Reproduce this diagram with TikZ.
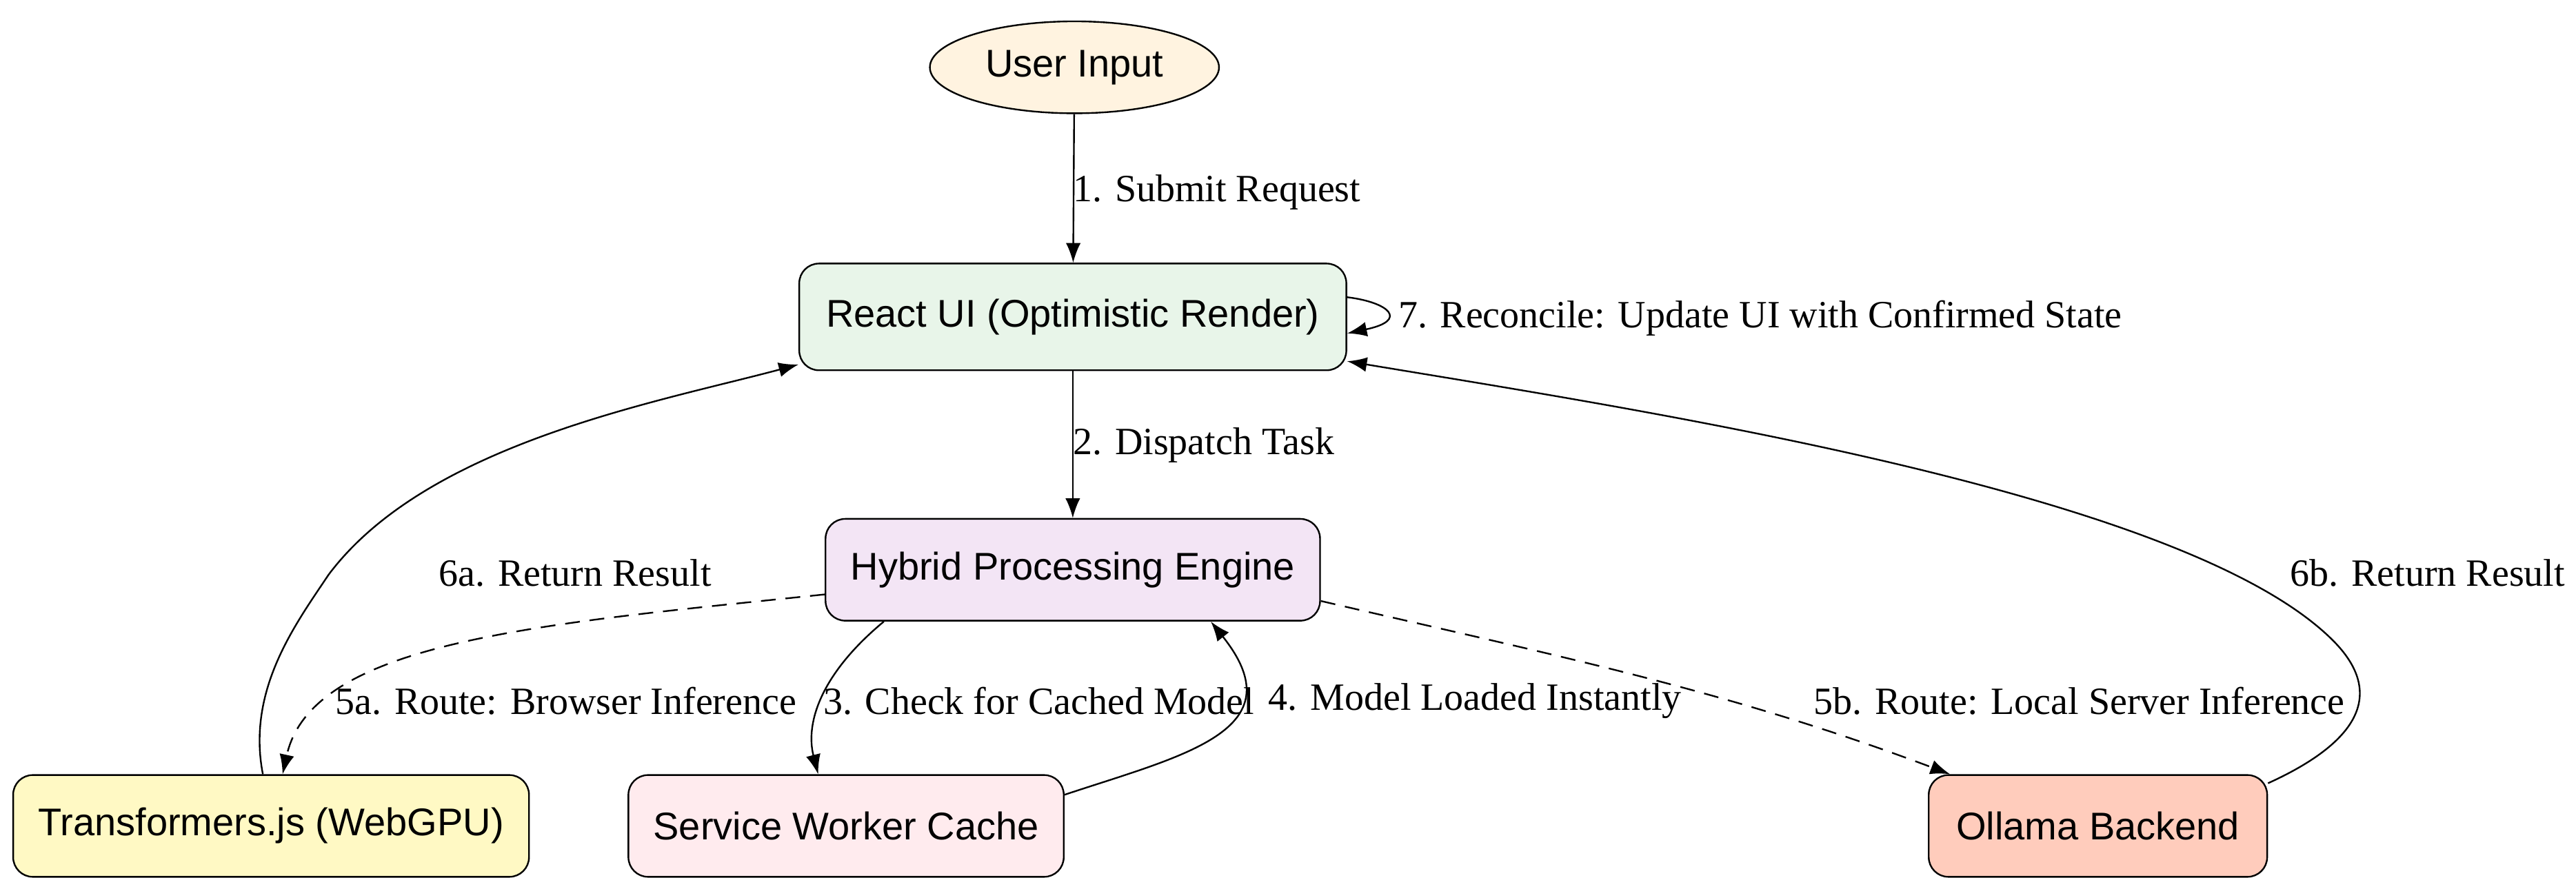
\documentclass[tikz,border=0pt]{standalone}
\usepackage{fontspec}
\setmainfont{Liberation Serif}
\newfontfamily\nodefont{Liberation Sans}
\usetikzlibrary{shapes.geometric,arrows.meta}
\definecolor{cUser}{HTML}{FFF3E0}
\definecolor{cReact}{HTML}{E8F5E9}
\definecolor{cHyb}{HTML}{F3E5F5}
\definecolor{cTr}{HTML}{FFF9C4}
\definecolor{cSW}{HTML}{FFEBEE}
\definecolor{cOl}{HTML}{FFCCBC}
\begin{document}
\begin{tikzpicture}[x=1pt,y=-1pt,
  box/.style={draw,rounded corners=12pt,font=\nodefont\fontsize{23.5}{28}\selectfont,inner sep=0pt,line width=1pt},
  lab/.style={anchor=west,font=\fontsize{23.5}{28}\selectfont,inner sep=1pt},
  e/.style={-{Latex[length=12pt,width=9pt]},line width=1pt},
  d/.style={e,dash pattern=on 9pt off 6pt}]
\useasboundingbox (0,0) rectangle (1568,541);
\node[ellipse,draw,fill=cUser,line width=1pt,minimum width=176pt,minimum height=56pt,inner sep=0pt,font=\nodefont\fontsize{23.5}{28}\selectfont] (user) at (654,41) {User Input};
\node[box,fill=cReact,minimum width=333pt,minimum height=65pt] (react) at (653,193) {React UI (Optimistic Render)};
\node[box,fill=cHyb,minimum width=301pt,minimum height=62pt] (hyb) at (653,347) {Hybrid Processing Engine};
\node[box,fill=cTr,minimum width=314pt,minimum height=62pt] (tr) at (165,503) {Transformers.js (WebGPU)};
\node[box,fill=cSW,minimum width=265pt,minimum height=62pt] (sw) at (515,503) {Service Worker Cache};
\node[box,fill=cOl,minimum width=206pt,minimum height=62pt] (ol) at (1277,503) {Ollama Backend};

\draw[e] (user) -- (react);
\node[lab] (l1) at (652,117) {1. Submit Request};
\draw[e] (react) -- (hyb);
\node[lab] (l2) at (652,271) {2. Dispatch Task};

\draw[e] ([xshift=36pt]hyb.south west) .. controls (500,410) and (490,440) .. ([xshift=-17pt]sw.north);
\node[lab] (l3) at (500,427) {3. Check for Cached Model};
\draw[e] ([yshift=19pt]sw.east) .. controls (720,460) and (790,445) .. ([xshift=84pt]hyb.south);
\node[lab] (l4) at (771,427) {4. Model Loaded Instantly};

\draw[d] ([yshift=-15pt]hyb.west) .. controls (330,380) and (190,390) .. ([xshift=7pt]tr.north);
\node[lab] (l5a) at (203,427) {5a. Route: Browser Inference};
\draw[d] ([yshift=-19pt]hyb.east) .. controls (950,400) and (1050,420) .. ([xshift=-90pt]ol.north);
\node[lab] (l5b) at (1103,427) {5b. Route: Local Server Inference};

\draw[e] ([xshift=-5pt]tr.north) .. controls (150,420) and (180,380) .. (200,350) .. controls (260,270) and (400,245) .. ([yshift=-29pt]react.west);
\node[lab] (l6a) at (266,349) {6a. Return Result};
\draw[e] ([yshift=26pt]ol.east) .. controls (1440,450) and (1450,420) .. (1420,390) .. controls (1330,300) and (1000,250) .. ([yshift=-27pt]react.east);
\node[lab] (l6b) at (1393,349) {6b. Return Result};

\draw[e] ([yshift=12pt]react.east) .. controls (845,184) and (858,195) .. ([yshift=-10pt]react.east);
\node[lab] (l7) at (850,194) {7. Reconcile: Update UI with Confirmed State};
\end{tikzpicture}
\end{document}
